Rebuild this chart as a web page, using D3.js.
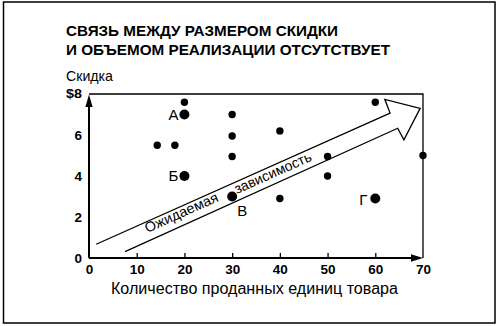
<!DOCTYPE html>
<html>
<head>
<meta charset="utf-8">
<script src="https://cdn.jsdelivr.net/npm/d3@7"></script>
<style>
  body { margin: 0; background: #fff; }
  svg { display: block; font-family: "Liberation Sans", Arial, sans-serif; }
</style>
</head>
<body>
<svg id="chart" width="500" height="326"></svg>
<script>
// Data
var TITLE_LINES = ["СВЯЗЬ МЕЖДУ РАЗМЕРОМ СКИДКИ", "И ОБЪЕМОМ РЕАЛИЗАЦИИ ОТСУТСТВУЕТ"];
var Y_TITLE = "Скидка";
var X_TITLE = "Количество проданных единиц товара";
var X_TICKS = [0, 10, 20, 30, 40, 50, 60, 70];
var Y_TICKS = [0, 2, 4, 6, 8];

// plain stores
var smallX = [20, 30, 14.3, 18, 30, 30, 40, 50, 50, 40, 60, 70];
var smallY = [7.6, 7.0, 5.5, 5.5, 5.95, 4.95, 6.2, 4.95, 4.0, 2.9, 7.6, 5.0];

// labelled stores
var namedLabels = ["А", "Б", "В", "Г"];
var namedX = [20, 20, 30, 60];
var namedY = [7.0, 4.0, 3.0, 2.9];

// "expected relationship" arrow, in data units
var arrowUpper = [[1.5, 0.67], [63.1, 7.07]];
var arrowLower = [[7.55, 0.31], [64.7, 6.33]];
var arrowHead = [[62.0, 7.74], [69.4, 7.30], [66.0, 5.76]];
var arrowWords = ["Ожидаемая", "зависимость"];
var arrowWordsX = [12.2, 31.0];
var arrowWordsY = [1.22, 3.12];

var svg = d3.select("#chart");

var x = d3.scaleLinear().domain([0, 70]).range([89, 423]);
var y = d3.scaleLinear().domain([0, 8]).range([258, 94]);

// outer frame
svg.append("rect")
    .attr("x", 3.5).attr("y", 2)
    .attr("width", 491.5).attr("height", 321)
    .attr("fill", "none")
    .attr("stroke", "#000")
    .attr("stroke-width", 1.5);

// title
var titleLen = [272, 324];
svg.append("g")
    .attr("font-weight", "bold")
    .attr("font-size", 15)
  .selectAll("text")
  .data(TITLE_LINES)
  .enter().append("text")
    .attr("x", 66)
    .attr("y", function(d, i) { return 36 + i * 19; })
    .attr("textLength", function(d, i) { return titleLen[i]; })
    .attr("lengthAdjust", "spacingAndGlyphs")
    .text(function(d) { return d; });

svg.append("text")
    .attr("x", 66)
    .attr("y", 81)
    .attr("font-size", 15)
    .attr("textLength", 47)
    .attr("lengthAdjust", "spacingAndGlyphs")
    .text(Y_TITLE);

// top and right edges of the plot box
svg.append("path")
    .attr("d", "M" + x(0) + "," + y(8) + "H" + x(70) + "V" + y(0))
    .attr("fill", "none")
    .attr("stroke", "#000")
    .attr("stroke-width", 1.3);

// axes
var xAxis = svg.append("g")
    .attr("class", "x axis")
    .attr("transform", "translate(0," + y(0) + ")")
    .call(d3.axisBottom(x).tickValues(X_TICKS).tickSizeInner(-5).tickSizeOuter(0).tickPadding(6));

var yAxis = svg.append("g")
    .attr("class", "y axis")
    .attr("transform", "translate(" + x(0) + ",0)")
    .call(d3.axisLeft(y).tickValues(Y_TICKS).tickSize(0).tickPadding(7)
      .tickFormat(function(d) { return d === 8 ? "$8" : d; }));

svg.selectAll(".axis .domain").remove();
xAxis.selectAll(".tick line")
    .attr("stroke-width", 1.3)
    .style("display", function(d) { return (d === 0 || d === 70) ? "none" : null; });
svg.selectAll(".axis text")
    .attr("font-family", "Liberation Sans, Arial, sans-serif")
    .attr("font-weight", "bold")
    .attr("font-size", 13.5)
    .attr("fill", "#000");
yAxis.selectAll(".tick")
    .filter(function(d) { return d === 8; })
    .select("text")
    .attr("font-size", 12)
    .attr("textLength", 16)
    .attr("lengthAdjust", "spacingAndGlyphs");

// axis lines with arrow heads
svg.append("path")
    .attr("d", "M" + x(0) + "," + y(0) + "V" + (y(8) + 10))
    .attr("stroke", "#000").attr("stroke-width", 2);
svg.append("path")
    .attr("d", "M" + x(0) + "," + y(0) + "H" + (x(70) - 10))
    .attr("stroke", "#000").attr("stroke-width", 2);
svg.append("path")
    .attr("d", "M" + x(0) + "," + (y(8) + 0.5) + "l-3.6,12.5h7.2z")
    .attr("fill", "#000");
svg.append("path")
    .attr("d", "M" + x(70) + "," + y(0) + "l-12,-3.8v7.6z")
    .attr("fill", "#000");

svg.append("text")
    .attr("x", 254.5)
    .attr("y", 294)
    .attr("text-anchor", "middle")
    .attr("font-size", 16)
    .attr("textLength", 287)
    .attr("lengthAdjust", "spacingAndGlyphs")
    .text(X_TITLE);

// big arrow
var arrowPts = [arrowLower[0], arrowLower[1], arrowHead[2], arrowHead[1], arrowHead[0], arrowUpper[1], arrowUpper[0]];
svg.append("path")
    .attr("d", d3.line().x(function(d) { return x(d[0]); }).y(function(d) { return y(d[1]); })(arrowPts))
    .attr("fill", "#fff")
    .attr("stroke", "#000")
    .attr("stroke-width", 1.3)
    .attr("stroke-linejoin", "miter");

var angle = Math.atan2(y(arrowUpper[1][1]) - y(arrowUpper[0][1]), x(arrowUpper[1][0]) - x(arrowUpper[0][0])) * 180 / Math.PI;
var wordLen = [79, 83];
svg.append("g")
    .attr("font-size", 14)
  .selectAll("text")
  .data(arrowWords)
  .enter().append("text")
    .attr("transform", function(d, i) {
      return "translate(" + x(arrowWordsX[i]) + "," + y(arrowWordsY[i]) + ") rotate(" + angle + ")";
    })
    .attr("textLength", function(d, i) { return wordLen[i]; })
    .attr("lengthAdjust", "spacingAndGlyphs")
    .text(function(d) { return d; });

// dots
svg.append("g")
  .selectAll("circle")
  .data(smallX)
  .enter().append("circle")
    .attr("cx", function(d) { return x(d); })
    .attr("cy", function(d, i) { return y(smallY[i]); })
    .attr("r", 3.7)
    .attr("fill", "#000");

svg.append("g")
  .selectAll("circle")
  .data(namedX)
  .enter().append("circle")
    .attr("cx", function(d) { return x(d); })
    .attr("cy", function(d, i) { return y(namedY[i]); })
    .attr("r", 5)
    .attr("fill", "#000");

var labelDx = [-6, -6, 5, -8];
var labelDy = [5, 5, 19, 6];
svg.append("g")
    .attr("font-size", 15)
  .selectAll("text")
  .data(namedLabels)
  .enter().append("text")
    .attr("x", function(d, i) { return x(namedX[i]) + labelDx[i]; })
    .attr("y", function(d, i) { return y(namedY[i]) + labelDy[i]; })
    .attr("text-anchor", function(d, i) { return i === 2 ? "start" : "end"; })
    .text(function(d) { return d; });
</script>
</body>
</html>
